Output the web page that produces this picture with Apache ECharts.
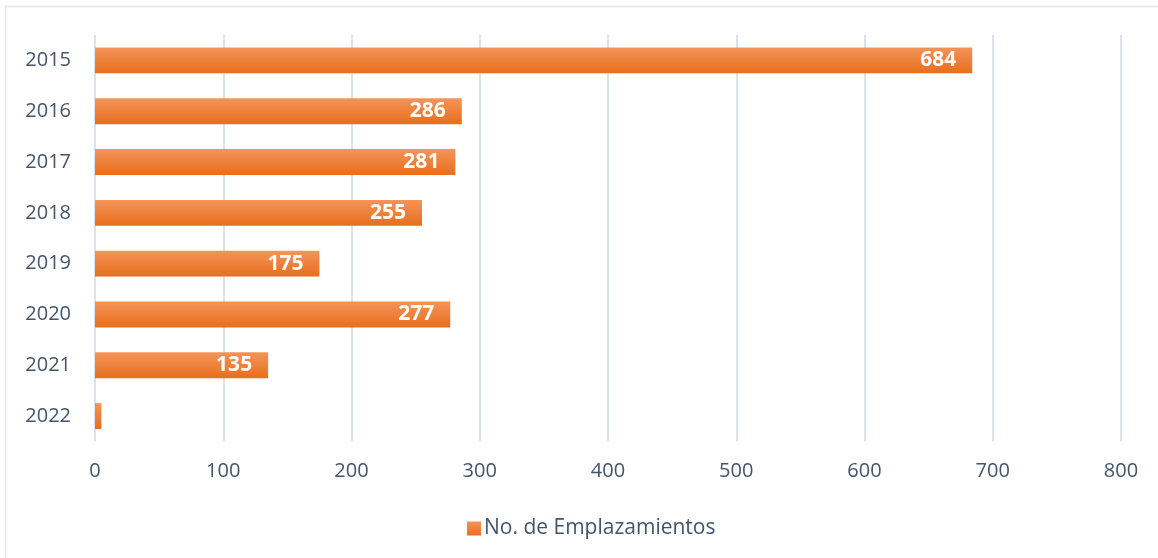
<!DOCTYPE html>
<html>
<head>
<meta charset="utf-8">
<script src="https://cdn.jsdelivr.net/npm/echarts@6/dist/echarts.min.js"></script>
<style>
  html, body { margin: 0; padding: 0; background: #fff; }
  #chart { width: 1158px; height: 558px; }
</style>
</head>
<body>
<div id="chart"></div>
<script>
// data
const years = ['2015', '2016', '2017', '2018', '2019', '2020', '2021', '2022']
const emplazamientos = [684, 286, 281, 255, 175, 277, 135, 5]
const seriesName = 'No. de Emplazamientos'
const xTicks = [0, 100, 200, 300, 400, 500, 600, 700, 800]

const textColor = '#44546a'
const gridColor = '#dde2ea'
const barGradient = new echarts.graphic.LinearGradient(0, 0, 0, 1, [
    { offset: 0, color: '#f4945a' },
    { offset: 1, color: '#e86e1c' }
])

const chart = echarts.init(document.getElementById('chart'))
chart.setOption({
    animation: false,
    textStyle: { fontFamily: 'Open Sans' },
    graphic: [
        {
            type: 'rect',
            shape: { x: 5.5, y: 6.5, width: 1170, height: 570 },
            style: { fill: 'none', stroke: '#dfe3ea', lineWidth: 1.5 },
            silent: true
        }
    ],
    grid: {
        left: 95,
        right: 37,
        top: 35,
        bottom: 116.5
    },
    legend: {
        data: [seriesName],
        left: 462,
        top: 513,
        itemWidth: 14,
        itemHeight: 14,
        itemGap: 4,
        icon: 'rect',
        textStyle: { color: textColor, fontSize: 21, fontFamily: 'Open Sans', padding: [0, 0, 0, -2] }
    },
    xAxis: {
        type: 'value',
        min: xTicks[0],
        max: xTicks[xTicks.length - 1],
        interval: 100,
        axisLine: { show: false },
        axisTick: { show: false },
        axisLabel: {
            color: textColor,
            fontSize: 20,
            margin: 20
        },
        splitLine: { lineStyle: { color: gridColor, width: 2 } }
    },
    yAxis: {
        type: 'category',
        data: years,
        inverse: true,
        axisLine: { show: false },
        axisTick: { show: false },
        axisLabel: {
            color: textColor,
            fontSize: 20,
            margin: 24
        }
    },
    series: [
        {
            name: seriesName,
            type: 'bar',
            data: emplazamientos,
            barWidth: '51%',
            itemStyle: { color: barGradient },
            label: {
                show: true,
                position: 'insideRight',
                distance: 16,
                color: '#fff',
                fontWeight: 'bold',
                fontSize: 21,
                formatter: function (p) {
                    return p.value >= 50 ? p.value : ''
                }
            }
        }
    ]
})
</script>
</body>
</html>
